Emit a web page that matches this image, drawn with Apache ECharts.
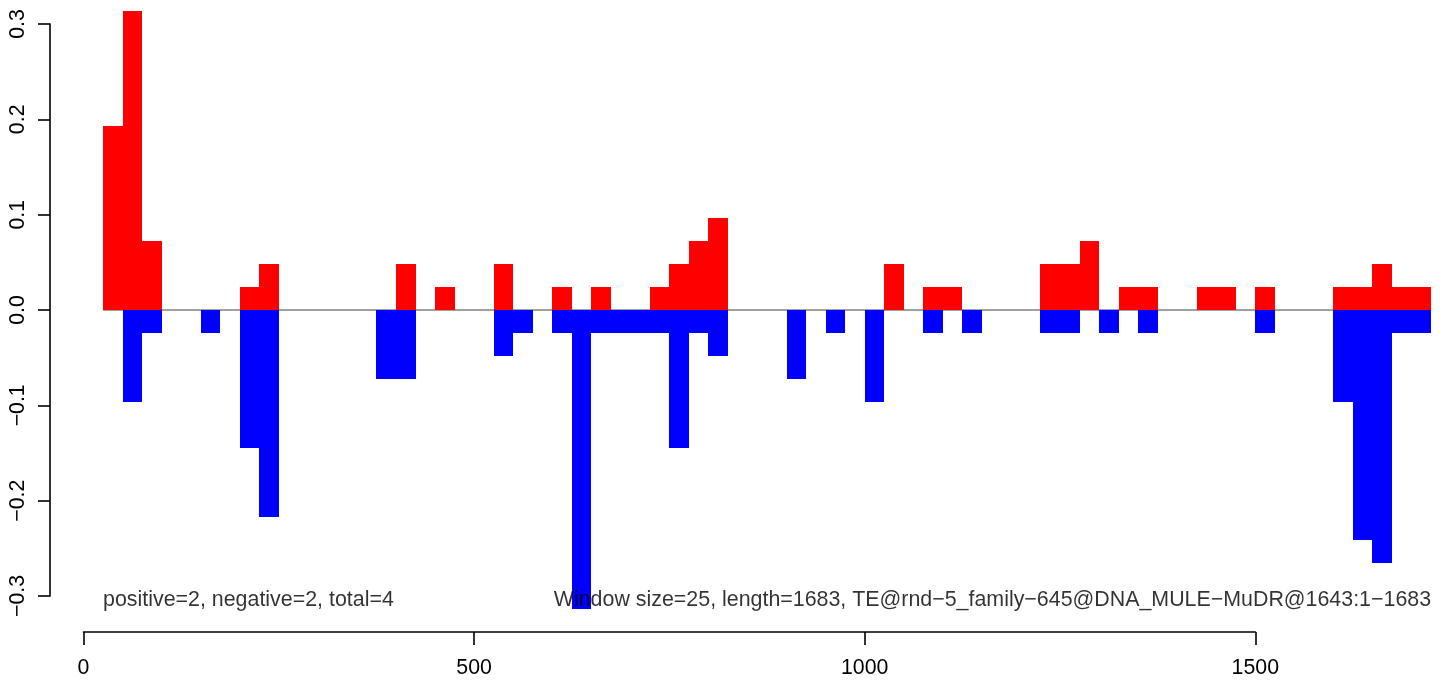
<!DOCTYPE html>
<html>
<head>
<meta charset="utf-8">
<script src="https://cdn.jsdelivr.net/npm/echarts@6/dist/echarts.min.js"></script>
<style>
html,body{margin:0;padding:0;background:#fff;}
#chart{width:1449px;height:680px;}
</style>
</head>
<body>
<div id="chart"></div>
<script>
// ---- data ----
const windowSize = 25;
const seqLength = 1683;
const redStarts = [25,50,75,200,225,400,450,525,600,650,725,750,775,800,1025,1075,1100,1225,1250,1275,1325,1350,1425,1450,1500,1600,1625,1650,1675,1700];
const redValues = [0.193,0.314,0.072,0.024,0.048,0.048,0.024,0.048,0.024,0.024,0.024,0.048,0.072,0.097,0.048,0.024,0.024,0.048,0.048,0.072,0.024,0.024,0.024,0.024,0.024,0.024,0.024,0.048,0.024,0.024];
const blueStarts = [50,75,150,200,225,375,400,525,550,600,625,650,675,700,725,750,775,800,900,950,1000,1075,1125,1225,1250,1300,1350,1500,1600,1625,1650,1675,1700];
const blueValues = [-0.097,-0.024,-0.024,-0.145,-0.217,-0.072,-0.072,-0.048,-0.024,-0.024,-0.314,-0.024,-0.024,-0.024,-0.024,-0.145,-0.024,-0.048,-0.072,-0.024,-0.097,-0.024,-0.024,-0.024,-0.024,-0.024,-0.024,-0.024,-0.097,-0.241,-0.265,-0.024,-0.024];
const xTicks = [0, 500, 1000, 1500];
const yTicks = [-0.3, -0.2, -0.1, 0.0, 0.1, 0.2, 0.3];
const leftNote = 'positive=2, negative=2, total=4';
const rightNote = 'Window size=25, length=1683, TE@rnd\u22125_family\u2212645@DNA_MULE\u2212MuDR@1643:1\u22121683';

// ---- build ----
const FONT = '"Liberation Sans", Arial, Helvetica, sans-serif';
const dataEnd = 1725;
function toRects(starts, values){
  return starts.map((s,i)=>[s, s+windowSize, values[i]]);
}
function makeRender(color){
  return function(params, api){
    const x0 = api.value(0), x1 = api.value(1), v = api.value(2);
    const p0 = api.coord([x0, v]);
    const p1 = api.coord([x1, 0]);
    const left = Math.round(p0[0]), right = Math.round(p1[0]);
    const top = Math.round(Math.min(p0[1], p1[1]));
    const bot = Math.round(Math.max(p0[1], p1[1]));
    return {type:'rect', shape:{x:left, y:top, width:right-left, height:bot-top}, style:{fill:color}};
  };
}
const pxPerUnit = 390.6/500;
const x0px = 83.5;
const chart = echarts.init(document.getElementById('chart'), null, {renderer:'canvas'});
const option = {
  animation:false,
  backgroundColor:'#ffffff',
  grid:[
    {left:x0px, top:24, width:dataEnd*pxPerUnit, height:572},
    {left:x0px, top:24, width:1500*pxPerUnit, height:608},
    {left:50, top:24, width:20, height:572}
  ],
  xAxis:[
    {gridIndex:0, type:'value', min:0, max:dataEnd, show:false},
    {gridIndex:1, type:'value', min:xTicks[0], max:xTicks[xTicks.length-1], interval:500, position:'bottom',
     axisLine:{show:true, lineStyle:{color:'#000', width:1.6}},
     axisTick:{show:true, length:13, lineStyle:{color:'#000', width:1.6}},
     splitLine:{show:false},
     axisLabel:{show:true, margin:26, fontSize:21.3, color:'#000', fontFamily:FONT,
       formatter:function(v){ return String(Math.round(v)); }}},
    {gridIndex:2, type:'value', min:0, max:1, show:false}
  ],
  yAxis:[
    {gridIndex:0, type:'value', min:-0.3, max:0.3, show:false},
    {gridIndex:1, type:'value', min:0, max:1, show:false},
    {gridIndex:2, type:'value', min:yTicks[0], max:yTicks[yTicks.length-1], interval:0.1, position:'left',
     axisLine:{show:true, lineStyle:{color:'#000', width:1.6}},
     axisTick:{show:true, length:12, lineStyle:{color:'#000', width:1.6}},
     splitLine:{show:false},
     axisLabel:{show:true, rotate:90, margin:21, fontSize:21.3, color:'#000', fontFamily:FONT,
       formatter:function(v){ return Number(v).toFixed(1).replace('-', '\u2212'); }}}
  ],
  series:[
    {type:'line', xAxisIndex:0, yAxisIndex:0, data:[[windowSize,0],[dataEnd,0]], symbol:'none',
     lineStyle:{color:'#a0a0a0', width:1.8}, z:1, silent:true},
    {type:'custom', xAxisIndex:0, yAxisIndex:0, renderItem:makeRender('#ff0000'), data:toRects(redStarts, redValues), z:2},
    {type:'custom', xAxisIndex:0, yAxisIndex:0, renderItem:makeRender('#0000ff'), data:toRects(blueStarts, blueValues), z:2},
    {type:'scatter', xAxisIndex:0, yAxisIndex:0, symbolSize:0, z:5, silent:true,
     data:[
       {value:[windowSize,-0.3], label:{show:true, formatter:leftNote, position:'inside', align:'left', verticalAlign:'middle', offset:[0,4], fontSize:21.4, color:'#000', fontFamily:FONT}},
       {value:[dataEnd,-0.3], label:{show:true, formatter:rightNote, position:'inside', align:'right', verticalAlign:'middle', offset:[0,4], fontSize:21.4, color:'#000', fontFamily:FONT}}
     ]}
  ]
};
chart.setOption(option);
</script>
</body>
</html>
